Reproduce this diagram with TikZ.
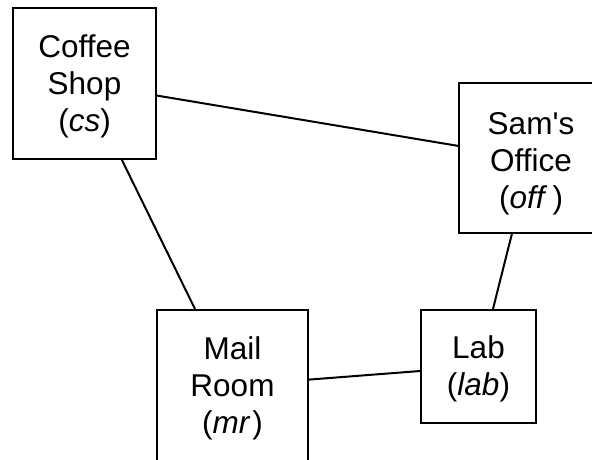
\documentclass[tikz,border=0pt]{standalone}
\usepackage{fontspec}
\setmainfont{Liberation Sans}[Ligatures=TeXOff]
\newcommand{\topstrut}[1]{\rule{0pt}{#1pt}}
\begin{document}
\begin{tikzpicture}[x=1pt,y=-1pt,
  room/.style={draw=black, line width=2pt, rectangle, inner sep=0pt, align=center,
    font=\fontsize{31.5}{37}\selectfont},
  link/.style={line width=2pt}]
\useasboundingbox (0,0) rectangle (592,460);
\node[room, minimum width=143pt, minimum height=151pt] (cs) at (84.5,83.5) {\topstrut{29}Coffee\\Shop\\(\textit{cs})};
\node[room, minimum width=144pt, minimum height=150pt] (off) at (531,158) {\topstrut{34}Sam's\\Office\\(\textit{off}\,)};
\node[room, minimum width=151pt, minimum height=151pt] (mr) at (232.5,385.5) {\topstrut{29}Mail\\Room\\(\textit{mr}\kern2pt)};
\node[room, minimum width=115pt, minimum height=113pt] (lab) at (478.5,366.5) {\topstrut{28}Lab\\(\textit{lab})};
\draw[link] (cs) -- (off);
\draw[link] (cs) -- (mr);
\draw[link] (off) -- (lab);
\draw[link] (mr) -- (lab);
\end{tikzpicture}
\end{document}
